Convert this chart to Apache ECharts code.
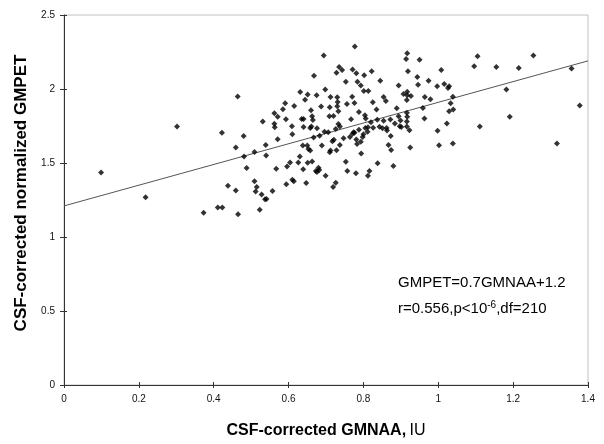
<!DOCTYPE html>
<html>
<head>
<meta charset="utf-8">
<script src="https://cdn.jsdelivr.net/npm/echarts@6/dist/echarts.min.js"></script>
<style>
html,body{margin:0;padding:0;background:#fff;}
#chart{width:604px;height:444px;}
</style>
</head>
<body>
<div id="chart"></div>
<script>
const xValues = [0.099,0.218,0.302,0.373,0.411,0.423,0.422,0.438,0.459,0.459,0.464,0.465,0.480,0.481,0.488,0.509,0.509,0.515,0.512,0.528,0.537,0.541,0.523,0.557,0.539,0.540,0.567,0.571,0.531,0.562,0.571,0.562,0.563,
0.777,0.694,0.917,0.914,0.735,0.743,0.728,0.771,0.781,0.802,0.822,0.919,0.668,0.753,0.784,0.793,0.845,0.894,0.698,0.801,0.813,0.631,0.651,0.675,0.712,0.730,0.770,0.644,0.854,0.860,0.591,0.731,0.730,0.710,0.687,0.615,0.660,0.585,0.756,0.776,0.825,0.835,0.889,0.733,0.788,0.593,0.635,0.640,0.663,0.665,0.709,0.720,0.767,0.804,0.806,0.820,0.837,0.854,0.872,0.894,0.899,0.609,0.640,0.661,0.658,0.676,0.733,0.737,0.726,0.788,0.774,0.805,0.812,0.826,0.843,0.851,0.862,0.863,0.884,0.897,0.610,0.706,0.696,0.683,0.667,0.747,0.764,0.771,0.776,0.800,0.798,0.793,0.811,0.873,0.781,0.717,0.721,0.737,0.783,0.867,0.689,0.638,0.650,0.653,0.658,0.710,0.712,0.728,0.794,0.874,0.630,0.596,0.604,0.626,0.639,0.651,0.663,0.680,0.682,0.673,0.676,0.753,0.757,0.780,0.816,0.812,0.838,0.880,0.699,0.647,0.610,0.614,0.594,0.726,0.719,
0.950,1.105,1.096,1.008,0.944,0.974,0.946,0.997,1.016,1.029,1.026,0.917,0.907,0.917,0.927,0.916,0.964,0.979,1.039,1.033,0.959,1.040,1.029,0.916,0.917,0.963,0.916,0.901,0.916,1.023,1.111,1.254,1.155,1.215,1.356,1.182,1.191,1.378,0.923,0.998,0.925,1.002,1.039,1.317];
const yValues = [1.436,1.269,1.747,1.164,1.200,1.200,1.705,1.347,1.314,1.604,1.950,1.153,1.682,1.544,1.466,1.575,1.376,1.338,1.307,1.287,1.255,1.257,1.184,1.311,1.622,1.550,1.461,1.660,1.781,1.836,1.812,1.765,1.741,
2.288,2.227,2.241,2.203,2.149,2.129,2.109,2.131,2.107,2.093,2.120,2.120,2.089,2.049,2.049,2.024,2.056,2.024,1.997,1.986,1.986,1.979,1.962,1.957,1.946,1.944,1.948,1.928,1.946,1.919,1.903,1.912,1.883,1.877,1.881,1.885,1.857,1.863,1.899,1.905,1.910,1.861,1.870,1.850,1.845,1.796,1.798,1.798,1.816,1.790,1.816,1.818,1.796,1.823,1.801,1.776,1.792,1.785,1.794,1.816,1.788,1.749,1.743,1.747,1.736,1.734,1.763,1.747,1.729,1.725,1.707,1.736,1.741,1.738,1.745,1.734,1.736,1.720,1.767,1.749,1.695,1.707,1.711,1.684,1.673,1.667,1.676,1.698,1.705,1.694,1.676,1.644,1.711,1.682,1.658,1.647,1.657,1.622,1.629,1.622,1.618,1.618,1.618,1.595,1.584,1.573,1.584,1.586,1.564,1.588,1.544,1.477,1.503,1.503,1.457,1.501,1.510,1.468,1.452,1.446,1.439,1.508,1.446,1.430,1.446,1.414,1.499,1.479,1.414,1.365,1.387,1.376,1.356,1.367,1.338,
2.198,2.221,2.154,2.129,2.081,2.056,2.029,2.019,2.033,2.019,2.006,1.982,1.966,1.957,1.952,1.926,1.946,1.930,1.948,1.903,1.872,1.861,1.850,1.839,1.812,1.801,1.781,1.743,1.747,1.767,1.747,2.227,2.149,2.142,2.138,1.997,1.812,1.888,1.722,1.718,1.604,1.620,1.631,1.631];
const fitX = [0, 1.4];
const fitY = [1.21, 2.19];
const xTickLabels = ['0','0.2','0.4','0.6','0.8','1','1.2','1.4'];
const yTickLabels = ['0','0.5','1','1.5','2','2.5'];

const points = xValues.map((x,i)=>[x,yValues[i]]);
const fitLine = fitX.map((x,i)=>[x,fitY[i]]);

const chart = echarts.init(document.getElementById('chart'), null, {renderer:'canvas'});
const FONT = 'Liberation Sans, Arial, sans-serif';
const xLab = v => xTickLabels[Math.round(v/0.2)];
const yLab = v => yTickLabels[Math.round(v/0.5)];
chart.setOption({
  animation:false,
  backgroundColor:'#fff',
  grid:{left:64,right:16,top:15,bottom:56,show:true,borderColor:'#c0c0c0',borderWidth:1},
  xAxis:[{
    type:'value',min:0,max:1.4,interval:0.2,
    axisLine:{show:true,onZero:false,lineStyle:{color:'#333',width:1}},
    axisTick:{show:true,inside:false,length:3,lineStyle:{color:'#333'}},
    splitLine:{show:false},
    axisLabel:{formatter:xLab,fontSize:10,color:'#111',fontFamily:FONT,margin:9},
    name:'{b|CSF-corrected GMNAA,} {n|IU}',
    nameLocation:'middle',nameGap:38,
    nameTextStyle:{rich:{b:{fontSize:16,fontWeight:'bold',fontFamily:FONT,color:'#000'},n:{fontSize:16,fontFamily:FONT,color:'#000'}}}
  },{
    type:'value',min:0,max:1.4,interval:0.2,position:'bottom',
    axisLine:{show:false},
    axisTick:{show:true,inside:true,length:3,lineStyle:{color:'#333'}},
    axisLabel:{show:false},splitLine:{show:false}
  }],
  yAxis:[{
    type:'value',min:0,max:2.5,interval:0.5,
    axisLine:{show:true,onZero:false,lineStyle:{color:'#333',width:1}},
    axisTick:{show:true,inside:false,length:4,lineStyle:{color:'#333'}},
    splitLine:{show:false},
    axisLabel:{formatter:yLab,fontSize:10,color:'#111',fontFamily:FONT,margin:9},
    name:'CSF-corrected normalized GMPET',
    nameLocation:'middle',nameGap:22,
    nameTextStyle:{fontSize:17,fontWeight:'bold',fontFamily:FONT,color:'#000',padding:[0,0,0,14]}
  },{
    type:'value',min:0,max:2.5,interval:0.5,position:'left',
    axisLine:{show:false},
    axisTick:{show:true,inside:true,length:3,lineStyle:{color:'#333'}},
    axisLabel:{show:false},splitLine:{show:false}
  }],
  series:[{
    type:'line',data:fitLine,symbol:'none',z:1,
    lineStyle:{color:'#555',width:1},silent:true
  },{
    type:'scatter',data:points,symbol:'diamond',symbolSize:6,z:2,
    itemStyle:{color:'#000'}
  }],
  graphic:[{
    type:'text',left:398,top:275,
    style:{text:'GMPET=0.7GMNAA+1.2',font:'15px '+FONT,fill:'#000'}
  },{
    type:'text',left:398,top:300,
    style:{text:'{a|r=0.556,p<10}{s|-6}{a|,df=210}',
      rich:{a:{fontSize:15,fontFamily:FONT,color:'#000'},s:{fontSize:10,fontFamily:FONT,color:'#000',verticalAlign:'top',padding:[0,0,8,0]}}}
  }]
});
</script>
</body>
</html>
